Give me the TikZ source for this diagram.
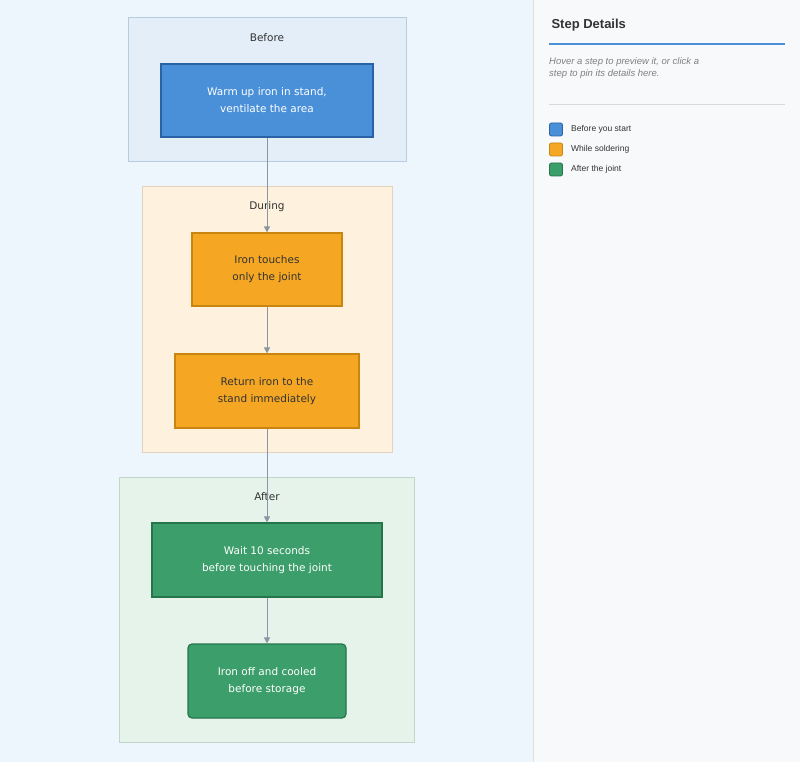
\documentclass[tikz,border=0pt]{standalone}
\usepackage{fontspec}
\setmainfont{DejaVu Sans}
\newfontfamily\panelfont{Liberation Sans}
\usetikzlibrary{arrows.meta}
\definecolor{bgl}{HTML}{EEF6FD}
\definecolor{bgr}{HTML}{F7F9FB}
\definecolor{bfill}{HTML}{E3EEF9}\definecolor{bdraw}{HTML}{B8CCDF}
\definecolor{dfill}{HTML}{FEF1DD}\definecolor{ddraw}{HTML}{E2D3BD}
\definecolor{afill}{HTML}{E6F3EB}\definecolor{adraw}{HTML}{BFD6C9}
\definecolor{blue1}{HTML}{4A90D9}\definecolor{blue2}{HTML}{2A62A5}
\definecolor{or1}{HTML}{F5A623}\definecolor{or2}{HTML}{C8850F}
\definecolor{gr1}{HTML}{3C9E6A}\definecolor{gr2}{HTML}{24764A}
\definecolor{arr}{HTML}{8A96A3}
\definecolor{txt}{HTML}{333333}
\tikzset{
 cluster/.style={line width=0.8pt},
 stepbox/.style={line width=1.2pt, align=center, font=\fontsize{10.5}{17}\selectfont},
 conn/.style={draw=arr, line width=1pt, -{Triangle[length=6pt,width=6pt]}},
 clabel/.style={font=\fontsize{10.5}{13}\selectfont, text=txt},
}
\begin{document}
\begin{tikzpicture}[x=1pt,y=-1pt]
\useasboundingbox (0,0) rectangle (800,762);
\fill[bgl] (0,0) rectangle (533,762);
\fill[bgr] (533,0) rectangle (800,762);
\draw[gray!25] (533.5,0) -- (533.5,762);
% clusters
\draw[cluster,fill=bfill,draw=bdraw] (128,17) rectangle (406,161);
\node[clabel] (lb) at (267,38) {Before};
\draw[cluster,fill=dfill,draw=ddraw] (142,186) rectangle (392,452);
\node[clabel] (ld) at (267,207) {During};
\draw[cluster,fill=afill,draw=adraw] (119,477) rectangle (414,742);
\node[clabel] (la) at (267,497) {After};
% nodes
\node[stepbox,fill=blue1,draw=blue2,text=white,minimum width=212,minimum height=73] (n1) at (267,100.5) {Warm up iron in stand,\\ventilate the area};
\node[stepbox,fill=or1,draw=or2,text=txt,minimum width=150,minimum height=73] (n2) at (267,269.5) {Iron touches\\only the joint};
\node[stepbox,fill=or1,draw=or2,text=txt,minimum width=184,minimum height=74] (n3) at (267,391) {Return iron to the\\stand immediately};
\node[stepbox,fill=gr1,draw=gr2,text=white,minimum width=230,minimum height=74] (n4) at (267,560) {Wait 10 seconds\\before touching the joint};
\node[stepbox,fill=gr1,draw=gr2,text=white,rounded corners=4pt,minimum width=158,minimum height=74] (n5) at (267,681) {Iron off and cooled\\before storage};
\draw[conn] (n1) -- (n2);
\draw[conn] (n2) -- (n3);
\draw[conn] (n3) -- (n4);
\draw[conn] (n4) -- (n5);
% panel
\node[anchor=west,font=\panelfont\bfseries\fontsize{13}{15}\selectfont,text=txt] (title) at (548,25) {Step Details};
\draw[blue1,line width=1.5pt] (549,44) -- (785,44);
\node[anchor=north west,align=left,font=\panelfont\itshape\fontsize{9.5}{12}\selectfont,text=gray,inner sep=0] (hint) at (549,57) {Hover a step to preview it, or click a\\step to pin its details here.};
\draw[gray!30] (549,104) -- (785,104);
\foreach \c/\d/\y/\t/\nm in {blue1/blue2/129.5/Before you start/l1, or1/or2/149.5/While soldering/l2, gr1/gr2/169.5/After the joint/l3}{
 \draw[fill=\c,draw=\d,rounded corners=2pt,line width=0.8pt] (549.5,\y-6.5) rectangle (562.5,\y+6.5);
 \node[anchor=west,font=\panelfont\fontsize{8.5}{10}\selectfont,text=txt,inner sep=0] (\nm) at (571,\y) {\t};
}
\end{tikzpicture}
\end{document}
